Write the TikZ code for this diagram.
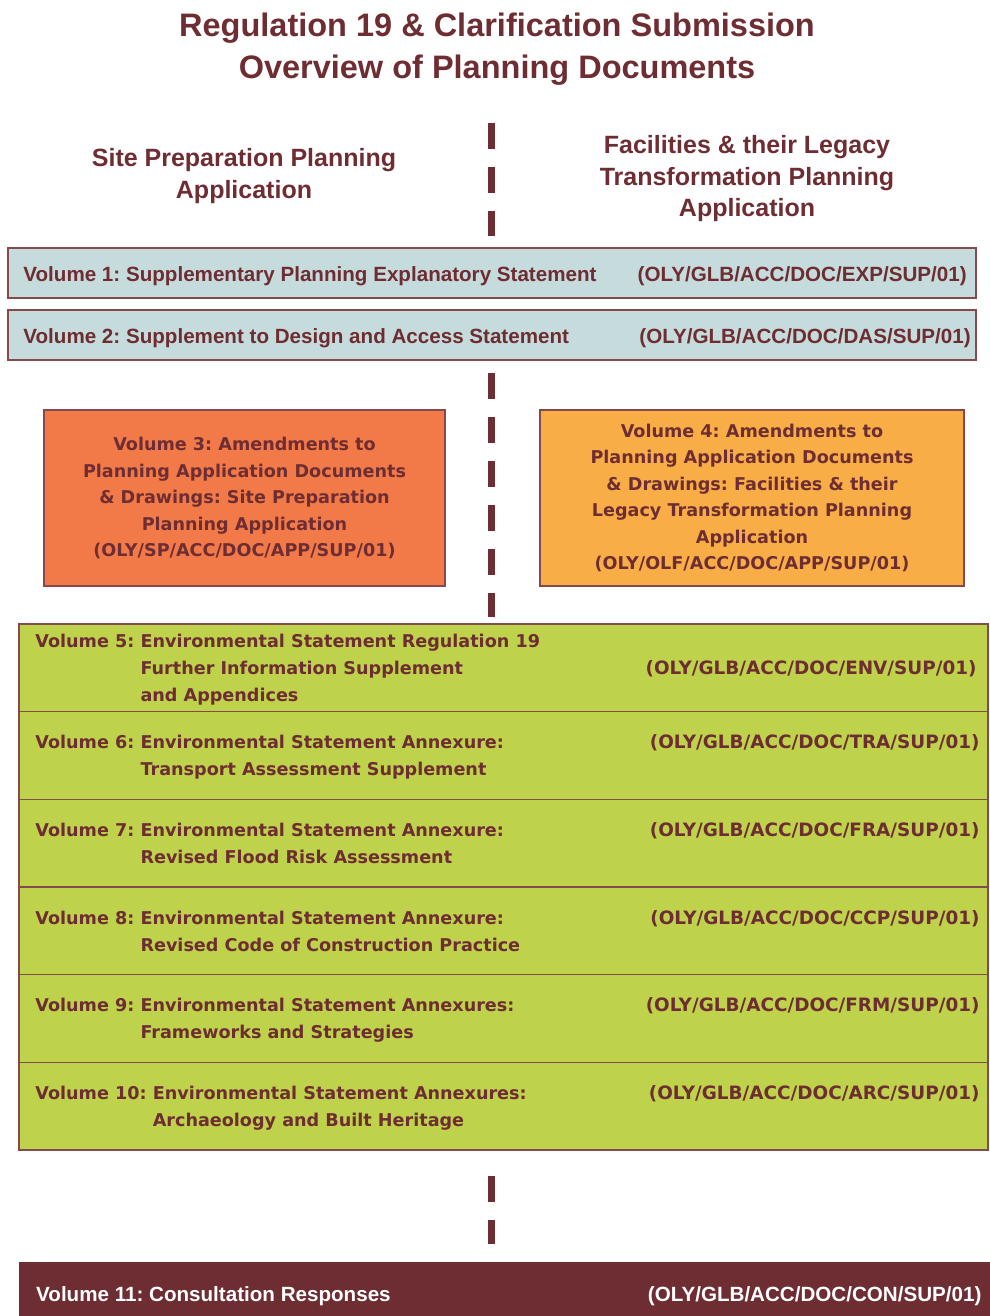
\documentclass[tikz,border=0pt]{standalone}
\usepackage{fontspec}
\setmainfont{Liberation Sans}
\newfontfamily\wideface{DejaVu Sans}
\usetikzlibrary{positioning}
\frenchspacing

\definecolor{maroon}{HTML}{6E2D32}
\definecolor{edge}{HTML}{86494C}
\definecolor{steel}{HTML}{C5DBDC}
\definecolor{coral}{HTML}{F27A48}
\definecolor{amber}{HTML}{F9AD47}
\definecolor{lime}{HTML}{BED24B}

\begin{document}
\begin{tikzpicture}[x=1pt, y=-1pt,
  panel/.style={draw=edge, line width=1.6pt, inner sep=0pt},
  head/.style={text=maroon, align=center, inner sep=0pt, font=\bfseries\fontsize{25}{31.5}\selectfont},
  label/.style={text=maroon, inner sep=0pt, font=\bfseries\fontsize{20.6}{24}\selectfont},
  wide/.style={text=maroon, inner sep=0pt, font=\wideface\bfseries\fontsize{17.6}{26.5}\selectfont},
  ref/.style={wide, font=\wideface\bfseries\fontsize{18.4}{26.5}\selectfont},
  divider/.style={draw=maroon, line width=7pt, dash pattern=on 26pt off 18pt}]

  \path[use as bounding box, fill=white] (0,0) rectangle (989,1316);

  \node[text=maroon, align=center, inner sep=0pt, font=\bfseries\fontsize{32.5}{42}\selectfont] (title) at (497,49)
    {Regulation 19 \& Clarification Submission\\Overview of Planning Documents};

  \node[head] (site) at (244,176) {Site Preparation Planning\\Application};
  \node[head] (legacy) at (747,179) {Facilities \& their Legacy\\Transformation Planning\\Application};
  \coordinate (split) at (491,0);

  % common volumes
  \node[panel, fill=steel, minimum width=968pt, minimum height=50pt] (vol1) at (492,273) {};
  \node[label, anchor=base west] at ([xshift=16pt, yshift=-8pt]vol1.west) {Volume 1: Supplementary Planning Explanatory Statement};
  \node[label, anchor=base east] at ([xshift=-10pt, yshift=-8pt]vol1.east) {(OLY/GLB/ACC/DOC/EXP/SUP/01)};

  \node[panel, fill=steel, minimum width=968pt, minimum height=50pt] (vol2) at (492,335) {};
  \node[label, anchor=base west] at ([xshift=16pt, yshift=-8pt]vol2.west) {Volume 2: Supplement to Design and Access Statement};
  \node[label, anchor=base east] at ([xshift=-6pt, yshift=-8pt]vol2.east) {(OLY/GLB/ACC/DOC/DAS/SUP/01)};

  % the two applications
  \node[panel, wide, fill=coral, align=center, minimum width=401pt, minimum height=176pt] (vol3) at (244.5,498)
    {Volume 3: Amendments to\\Planning Application Documents\\\& Drawings: Site Preparation\\Planning Application\\(OLY/SP/ACC/DOC/APP/SUP/01)};
  \node[panel, wide, fill=amber, align=center, minimum width=424pt, minimum height=176pt] (vol4) at (752,498)
    {Volume 4: Amendments to\\Planning Application Documents\\\& Drawings: Facilities \& their\\Legacy Transformation Planning\\Application\\(OLY/OLF/ACC/DOC/APP/SUP/01)};

  % environmental statement
  \foreach \i in {5,...,10}
    \node[panel, fill=lime, minimum width=969pt, minimum height=87.7pt] (vol\i) at (503.5,{624+87.67*(\i-5)+43.83}) {};

  \node[wide, anchor=base west] (t5) at ([xshift=17pt, yshift=-24.5pt]vol5.north west) {Volume 5: Environmental Statement Regulation 19};
  \node[wide, anchor=base west] (t5b) at ([yshift=-27pt]t5.base west) {\hphantom{Volume 5: }Further Information Supplement};
  \node[wide, anchor=base west] at ([yshift=-27pt]t5b.base west) {\hphantom{Volume 5: }and Appendices};
  \node[ref, anchor=base east] at ([xshift=-12pt]t5b.base -| vol5.east) {(OLY/GLB/ACC/DOC/ENV/SUP/01)};

  \foreach \i/\a/\b/\c in {6/Annexure:/Transport Assessment Supplement/TRA,
                           7/Annexure:/Revised Flood Risk Assessment/FRA,
                           8/Annexure:/Revised Code of Construction Practice/CCP,
                           9/Annexures:/Frameworks and Strategies/FRM,
                           10/Annexures:/Archaeology and Built Heritage/ARC} {
    \node[wide, anchor=base west] (t\i) at ([xshift=17pt, yshift=-38pt]vol\i.north west) {Volume \i: Environmental Statement \a};
    \node[wide, anchor=base west] at ([yshift=-27pt]t\i.base west) {\hphantom{Volume \i: }\b};
    \node[ref, anchor=base east] at ([xshift=-9pt]t\i.base -| vol\i.east) {(OLY/GLB/ACC/DOC/\c/SUP/01)};
  }

  \node[panel, draw=maroon, fill=maroon, minimum width=975pt, minimum height=70pt, anchor=north west] (vol11) at (19,1262) {};
  \node[label, text=white, anchor=base west] at ([xshift=17pt, yshift=-39pt]vol11.north west) {Volume 11: Consultation Responses};
  \node[label, text=white, anchor=base east] at ([xshift=-14pt, yshift=-39pt]vol11.north east) {(OLY/GLB/ACC/DOC/CON/SUP/01)};

  % split between the two applications
  \draw[divider] (split |- 0,123) -- ([yshift=11pt]vol1.north -| split);
  \draw[divider] ([yshift=-12pt]vol2.south -| split) -- ([yshift=6pt]vol5.north -| split);
  \draw[divider] ([yshift=-25pt]vol10.south -| split) -- ([yshift=18pt]vol11.north -| split);
\end{tikzpicture}
\end{document}
